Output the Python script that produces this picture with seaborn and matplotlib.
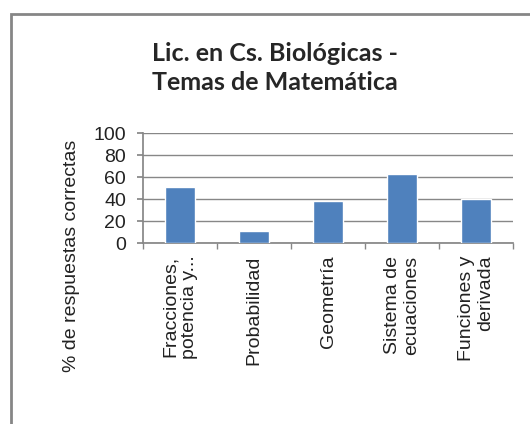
import numpy as np
import pandas as pd
import matplotlib
matplotlib.use("Agg")
import matplotlib.pyplot as plt
import seaborn as sns
from matplotlib.patches import Rectangle

# datos
temas = ["Fracciones,\npotencia y...", "Probabilidad", "Geometría",
         "Sistema de\necuaciones", "Funciones y\nderivada"]
porcentajes = [51, 11, 38, 62.5, 40]
yticks = [0, 20, 40, 60, 80, 100]

df = pd.DataFrame({"tema": temas, "pct": porcentajes})

sns.set_theme(style="white")
plt.rcParams['font.family'] = ['Liberation Sans', 'DejaVu Sans']

fig = plt.figure(figsize=(5.3, 4.24), dpi=100)
W, H = 530, 424

# marco del grafico (estilo excel), solo se ven borde superior e izquierdo
fig.patches.append(Rectangle((11 / W, -0.1), 1.0, 1 - 14 / H + 0.1,
                             transform=fig.transFigure, fill=False,
                             edgecolor="#868686", linewidth=2))

ax = fig.add_axes([143 / W, (H - 243) / H, 370 / W, 110 / H])
sns.barplot(data=df, x="tema", y="pct", color="#4F81BD", width=0.4,
            saturation=1, ax=ax, zorder=3)

ax.set_ylim(0, 100)
ax.set_xlim(-0.5, len(temas) - 0.5)
ax.set_yticks(yticks)
ax.yaxis.grid(True, color="#878787", linewidth=1)
ax.set_axisbelow(True)
for s in ["top", "right"]:
    ax.spines[s].set_visible(False)
ax.spines["left"].set_color("#878787")
ax.spines["bottom"].set_color("#878787")

ax.tick_params(axis="y", length=4.3, color="#878787", labelsize=14,
               pad=8, left=True, labelcolor="#222222")
ax.tick_params(axis="x", which="major", length=0, labelsize=14, pad=9,
               labelrotation=90, labelcolor="#222222")
ax.set_xticks(np.arange(-0.5, len(temas)), minor=True)
ax.tick_params(axis="x", which="minor", length=4, color="#878787",
               bottom=True)
for lab in ax.get_xticklabels():
    lab.set_multialignment("right")

ax.set_xlabel("")
ax.set_ylabel("% de respuestas correctas", fontsize=14, color="#222222")
ax.yaxis.set_label_coords(-0.170, -0.118)

fig.text(275 / W, 1 - 68 / H, "Lic. en Cs. Biológicas -\nTemas de Matemática",
         ha="center", va="center", fontsize=18, fontweight="bold",
         family="Lato", linespacing=1.3)

fig.savefig("out.png", dpi=100)
